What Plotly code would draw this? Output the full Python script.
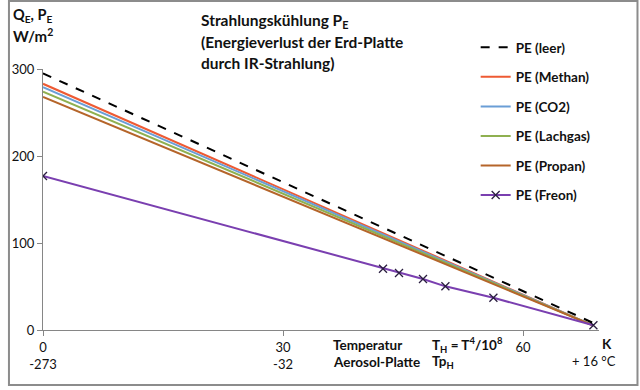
import plotly.graph_objects as go

# ---- data ----
x_ends = [0, 68.8]
pe_leer = [295, 8]
pe_methan = [283, 5]
pe_co2 = [279, 5]
pe_lachgas = [274, 5]
pe_propan = [268, 5]

freon_x = [0, 42.5, 44.5, 47.5, 50.3, 56.3, 68.8]
freon_y = [177, 70.5, 65.6, 58.7, 50.2, 37, 5.5]

x_tickvals = [0, 30, 60]
x_ticktext = ["0<br>-273", "30<br>-32", "60"]
y_tickvals = [0, 100, 200, 300]

# ---- layout geometry (pixels) ----
W, H = 640, 390
L, R, T, B = 35.5, 599, 69, 330
pw, ph = R - L, B - T


def px(x):
    return (x - L) / pw


def py(y):
    return (B - y) / ph


FONT = "Lato"
fig = go.Figure()

series = [
    ("PE (Methan)", pe_methan, "#EE5A33", 1),
    ("PE (CO2)", pe_co2, "#6A9ED6", 2),
    ("PE (Lachgas)", pe_lachgas, "#8FB050", 3),
    ("PE (Propan)", pe_propan, "#B5652A", 4),
]
for name, ys, col, rank in series:
    fig.add_trace(go.Scatter(x=x_ends, y=ys, mode="lines", name=name,
                             line=dict(color=col, width=2), legendrank=rank,
                             legendgroup=name))

fig.add_trace(go.Scatter(x=freon_x, y=freon_y, mode="lines+markers", name="PE (Freon)",
                         line=dict(color="#7A3FB0", width=2),
                         marker=dict(symbol="x-thin", size=8,
                                     line=dict(color="#2A1E40", width=1.3)),
                         legendrank=5, legendgroup="freon"))

fig.add_trace(go.Scatter(x=x_ends, y=pe_leer, mode="lines", name="PE (leer)",
                         line=dict(color="black", width=2, dash="dash"),
                         legendrank=0, legendgroup="leer"))

ann = []


def text(s, x, y, xanchor="left", size=13, bold=True):
    ann.append(dict(text=(f"<b>{s}</b>" if bold else s), x=px(x), y=py(y),
                    xref="paper", yref="paper", xanchor=xanchor, yanchor="middle",
                    showarrow=False, font=dict(family=FONT, size=size, color="#111")))


# y-axis title
text("Q<sub>E</sub>, P<sub>E</sub>", 3, 15, size=14.5)
text("W/m<sup>2</sup>", 3, 35, size=15)
# chart title
text("Strahlungskühlung P<sub>E</sub>", 194, 21, size=15.5)
text("(Energieverlust der Erd-Platte", 194, 42, size=15.5)
text("durch IR-Strahlung)", 194, 63, size=15.5)
# x-axis annotations
text("Temperatur", 327, 345, size=13.5)
text("Aerosol-Platte", 327, 362, size=13.5)
text("T<sub>H</sub> = T<sup>4</sup>/10<sup>8</sup>", 428, 345, size=13.5)
text("Tp<sub>H</sub>", 428, 362, size=13.5)
text("K", 607, 344, xanchor="center", size=13.5)
text("+ 16 °C", 594, 361, xanchor="center", size=13, bold=False)

fig.update_layout(
    width=W, height=H,
    margin=dict(l=L, r=W - R, t=T, b=H - B, pad=0),
    paper_bgcolor="white", plot_bgcolor="white",
    font=dict(family=FONT, size=13, color="#111"),
    annotations=ann,
    legend=dict(x=px(474), y=py(32), xanchor="left", yanchor="top",
                font=dict(family=FONT, size=13.5, color="#111", weight="bold"),
                tracegroupgap=9, bgcolor="rgba(0,0,0,0)", itemwidth=30),
    shapes=[dict(type="rect", xref="paper", yref="paper",
                 x0=px(1), x1=px(638), y0=py(1), y1=py(385),
                 line=dict(color="#8C8C8C", width=2), layer="below")],
)

fig.update_xaxes(range=[0, 69.5], tickvals=x_tickvals, ticktext=x_ticktext,
                 showgrid=False, zeroline=False, showline=True, linecolor="#868686",
                 linewidth=1, ticks="outside", ticklen=5, tickcolor="#868686",
                 tickfont=dict(family=FONT, size=13, color="#111"))
fig.update_yaxes(range=[0, 300], tickvals=y_tickvals,
                 showgrid=False, zeroline=False, showline=True, linecolor="#868686",
                 linewidth=1, ticks="outside", ticklen=5, tickcolor="#868686",
                 tickfont=dict(family=FONT, size=13, color="#111"))

fig.write_html("out.html", config={"displayModeBar": False},
               post_script="document.body.style.margin='0';")
